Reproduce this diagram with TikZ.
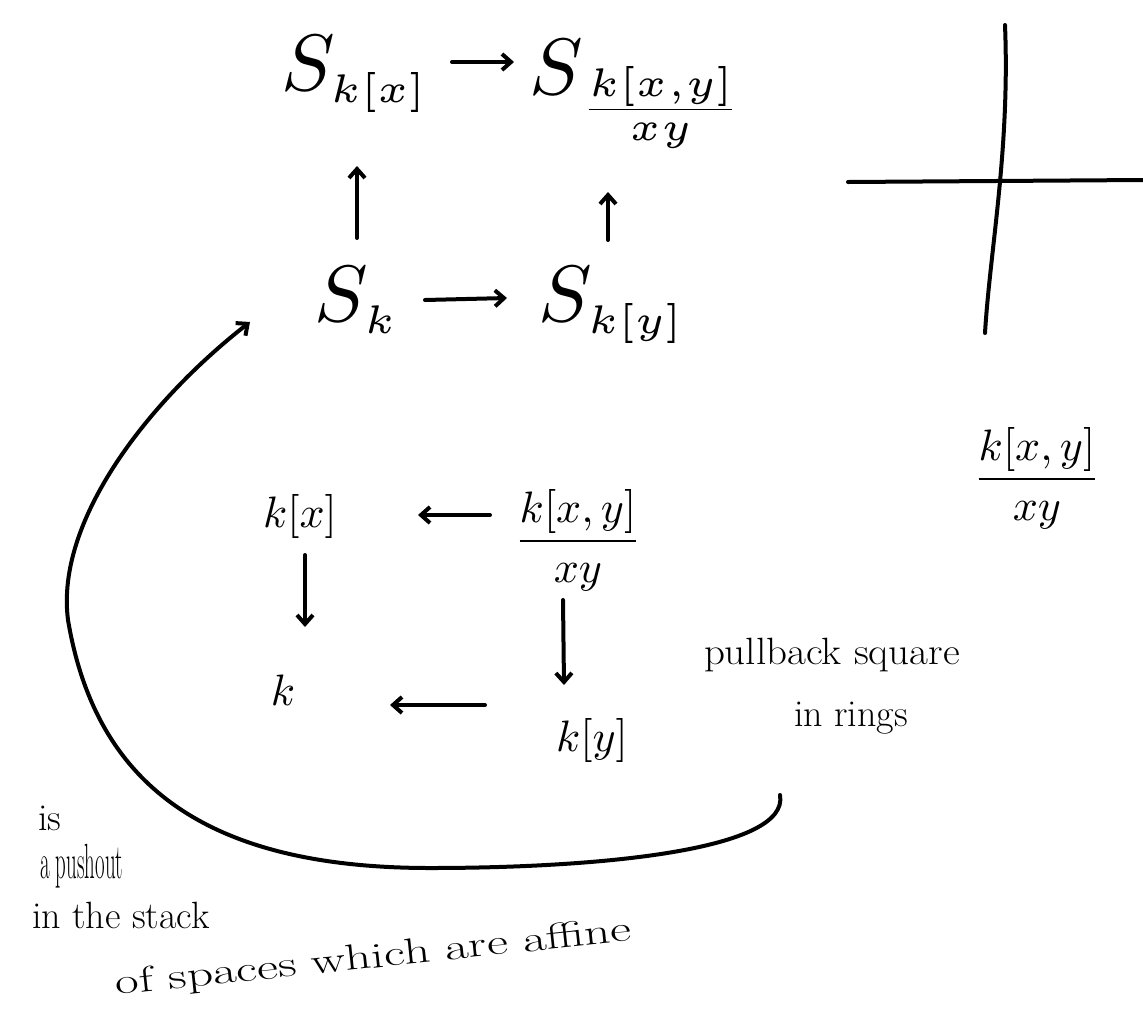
\documentclass[tikz,border=0pt]{standalone}
\usepackage{amsmath}
\usepackage{graphicx}
\usetikzlibrary{arrows.meta}
\newcommand{\mybigmath}[1]{\scalebox{8}{$#1$}}
\newcommand{\mymidmath}[1]{\scalebox{4.4}{$#1$}}
\begin{document}
\begin{tikzpicture}[x=1pt,y=-1pt, line width=4pt, line cap=round,
 arr/.style={-{Straight Barb[length=9pt,width=16pt]}},
 big/.style={inner sep=0pt},
 mid/.style={inner sep=0pt},
 note/.style={font=\fontsize{38}{42}\selectfont, inner sep=0pt, anchor=west}]
\useasboundingbox (0,0) rectangle (1143,1026);
% upper square (spaces)
\node[big] (Skx) at (355,74) {\mybigmath{S_{\scriptscriptstyle k[x]}}};
\node[big] (Skxy) at (638,94) {\mybigmath{S_{\genfrac{}{}{}{3}{k[x,y]}{xy}}}};
\node[big] (Sk) at (357,300) {\mybigmath{S_{\scriptscriptstyle k}}};
\node[big] (Sky) at (612,305) {\mybigmath{S_{\scriptscriptstyle k[y]}}};
\coordinate (a1) at (452,62); \coordinate (a2) at (514,62);
\draw[arr] (a1) -- (a2);
\coordinate (a3) at (425,300); \coordinate (a4) at (507,298);
\draw[arr] (a3) -- (a4);
\coordinate (a5) at (357,238); \coordinate (a6) at (357,166);
\draw[arr] (a5) -- (a6);
\coordinate (a7) at (608,240); \coordinate (a8) at (608,192);
\draw[arr] (a7) -- (a8);
% cross
\coordinate (v1) at (1005,25); \coordinate (v2) at (985,333);
\coordinate (h1) at (848,182); \coordinate (h2) at (1143,180);
\draw (v1) .. controls (1010,150) and (990,250) .. (v2);
\draw (h1) -- (h2);
\node[mid] (frac) at (1037,478) {\mymidmath{\dfrac{k[x,y]}{xy}}};
% lower square (rings)
\node[mid] (kx) at (300,516) {\mymidmath{k[x]}};
\node[mid] (kxy) at (578,540) {\mymidmath{\dfrac{k[x,y]}{xy}}};
\node[mid] (k) at (283,690) {\mymidmath{k}};
\node[mid] (ky) at (592,740) {\mymidmath{k[y]}};
\coordinate (r1) at (490,515); \coordinate (r2) at (418,515);
\draw[arr] (r1) -- (r2);
\coordinate (r3) at (485,705); \coordinate (r4) at (390,705);
\draw[arr] (r3) -- (r4);
\coordinate (r5) at (305,555); \coordinate (r6) at (305,627);
\draw[arr] (r5) -- (r6);
\coordinate (r7) at (563,600); \coordinate (r8) at (564,685);
\draw[arr] (r7) -- (r8);
\node[note] (pb1) at (702,655) {\scalebox{1.08}[1]{pullback square}};
\node[note] (pb2) at (792,718) {in rings};
% big curve
\coordinate (c0) at (780,795);
\coordinate (c1) at (250,322);
\draw[-{Straight Barb[length=9pt,width=16pt]}] (c0) .. controls (790,850) and (600,868) .. (430,868)
  .. controls (200,868) and (95,780) .. (68,620)
  .. controls (55,520) and (150,400) .. (c1);
% bottom text
\node[note] (t1) at (36,818) {is};
\node[note] (t2) at (38,866) {\scalebox{0.55}[1.3]{a pushout}};
\node[note] (t3) at (30,915) {in the stack};
\node[note, rotate=6] (t4) at (114,986) {\scalebox{1.35}[0.95]{of spaces which are affine}};
\end{tikzpicture}
\end{document}
